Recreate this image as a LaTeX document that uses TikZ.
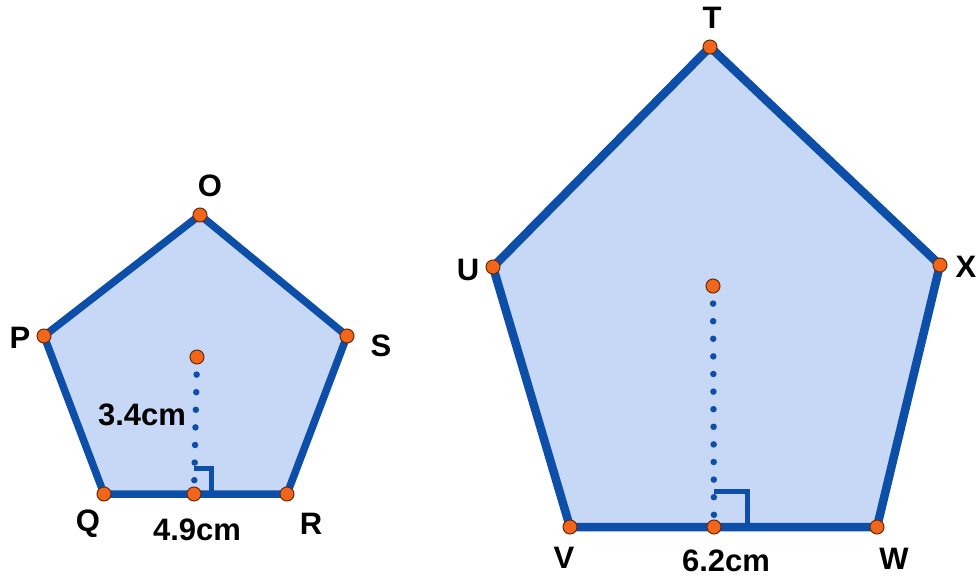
\documentclass[tikz,border=0pt]{standalone}
\usepackage{fontspec}
\setmainfont{Liberation Sans}
\definecolor{edgeblue}{HTML}{0C4EA8}
\definecolor{fillblue}{HTML}{C6D8F6}
\definecolor{ptorange}{HTML}{F2661C}
\definecolor{ptdark}{HTML}{6A2A08}
\begin{document}
\begin{tikzpicture}[x=1pt,y=-1pt,
  pentsmall/.style={draw=edgeblue, line width=7.5pt, line join=round, fill=fillblue},
  pentlarge/.style={draw=edgeblue, line width=8.5pt, line join=round, fill=fillblue},
  pt/.style={circle, fill=ptorange, draw=ptdark, line width=1pt, inner sep=0pt, minimum size=14pt},
  lbl/.style={font=\bfseries\fontsize{31}{31}\selectfont, text=black, inner sep=0pt},
  heightline/.style={draw=edgeblue, line width=6.5pt, line cap=round, dash pattern=on 0pt off 17.6pt},
  rightang/.style={draw=edgeblue, line width=5pt, line join=miter}
]
\useasboundingbox (0,0) rectangle (978,577);

% small pentagon vertices
\coordinate (O) at (200,215);
\coordinate (P) at (44,336);
\coordinate (S) at (347,336);
\coordinate (Q) at (104,494);
\coordinate (R) at (287,494);
\coordinate (C1) at (197,357);
\coordinate (M1) at (194,494);
\coordinate (RA1a) at (194,468);
\coordinate (RA1b) at (211,468);
\coordinate (RA1c) at (211,494);

% large pentagon vertices
\coordinate (T) at (710,47);
\coordinate (U) at (493,267);
\coordinate (X) at (940,265);
\coordinate (V) at (570,527);
\coordinate (W) at (877,527);
\coordinate (C2) at (713,286);
\coordinate (M2) at (714,527);
\coordinate (RA2a) at (714,491);
\coordinate (RA2b) at (747,491);
\coordinate (RA2c) at (747,527);

% shapes
\draw[pentsmall] (O) -- (S) -- (R) -- (Q) -- (P) -- cycle;
\draw[pentlarge] (T) -- (X) -- (W) -- (V) -- (U) -- cycle;

% heights
\draw[heightline] (C1) -- (M1);
\draw[heightline] (C2) -- (M2);

% right angle markers
\draw[rightang] (RA1a) -- (RA1b) -- (RA1c);
\draw[rightang] (RA2a) -- (RA2b) -- (RA2c);

% points
\foreach \p in {O,P,S,Q,R,C1,M1,T,U,X,V,W,C2,M2}
  \node[pt] (dot\p) at (\p) {};

% labels
\node[lbl] (lO) at (210,186) {O};
\node[lbl] (lP) at (20,338) {P};
\node[lbl] (lS) at (381,346) {S};
\node[lbl] (lQ) at (88,524) {Q};
\node[lbl] (lR) at (311,524) {R};
\node[lbl] (lh1) at (142,415) {3.4cm};
\node[lbl] (lb1) at (197,530) {4.9cm};

\node[lbl] (lT) at (712,18) {T};
\node[lbl] (lU) at (468,270) {U};
\node[lbl] (lX) at (966,267) {X};
\node[lbl] (lV) at (564,558) {V};
\node[lbl] (lW) at (894,559) {W};
\node[lbl] (lb2) at (726,561) {6.2cm};
\end{tikzpicture}
\end{document}
